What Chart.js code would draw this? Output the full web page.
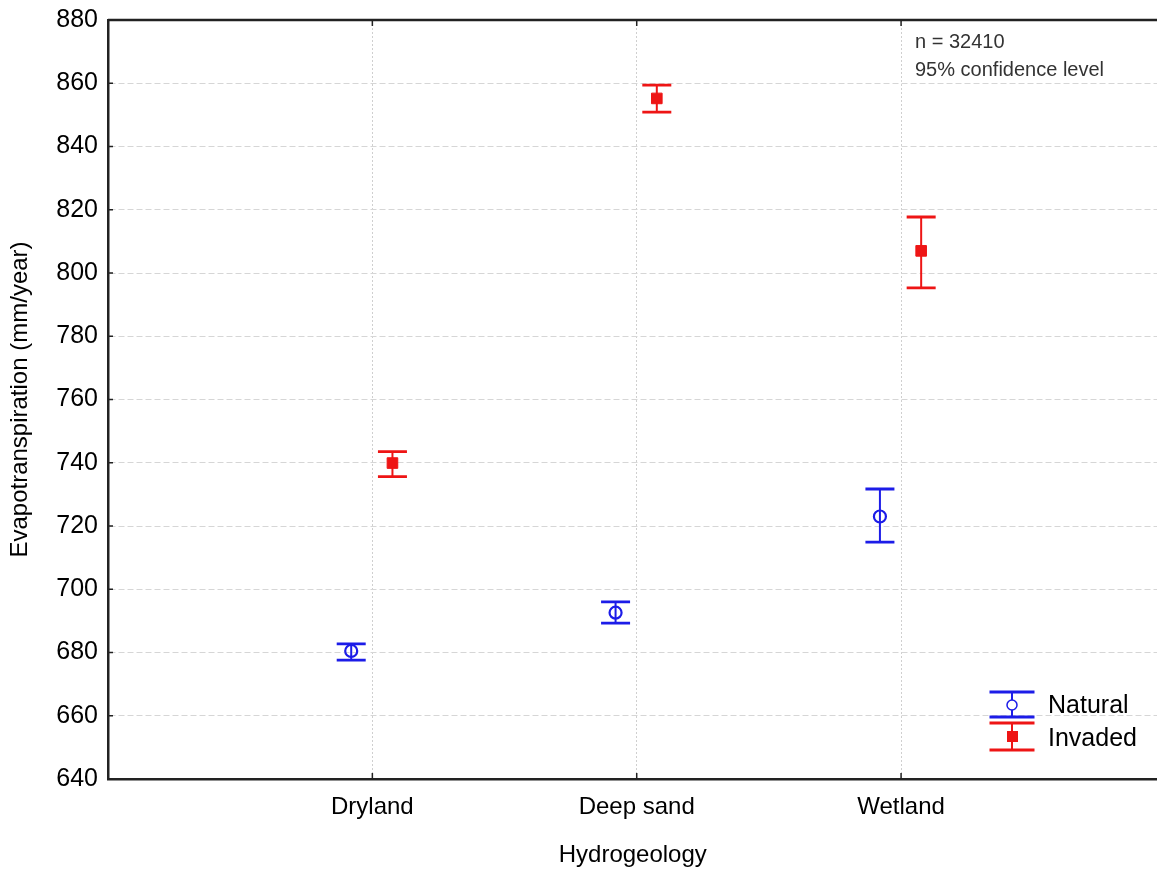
<!DOCTYPE html>
<html>
<head>
<meta charset="utf-8">
<script src="https://cdn.jsdelivr.net/npm/chart.js@4.4.0/dist/chart.umd.min.js"></script>
<style>
  html, body { margin: 0; padding: 0; background: #fff; overflow: hidden; }
  #wrap { width: 1157px; height: 870px; overflow: hidden; }
</style>
</head>
<body>
<div id="wrap"><canvas id="myChart" width="1166" height="870"></canvas></div>
<script>
// données
const categories = ['Dryland', 'Deep sand', 'Wetland'];
const naturalMean = [680.5, 692.6, 723.0];
const naturalLow = [677.6, 689.3, 714.9];
const naturalHigh = [682.7, 696.0, 731.7];
const invadedMean = [739.9, 855.2, 807.0];
const invadedLow = [735.6, 850.9, 795.3];
const invadedHigh = [743.5, 859.4, 817.7];
const yTickValues = [640, 660, 680, 700, 720, 740, 760, 780, 800, 820, 840, 860, 880];

const BLUE = '#1c1ce8';
const RED = '#ee1515';
const TEXT = '#000';
const FONT = 'Arial, "Liberation Sans", sans-serif';

// décalage horizontal des deux groupes autour de la catégorie
const shiftNatural = -0.08;
const shiftInvaded = 0.076;

const naturalPts = naturalMean.map((v, i) => ({ x: i + 1 + shiftNatural, y: v }));
const invadedPts = invadedMean.map((v, i) => ({ x: i + 1 + shiftInvaded, y: v }));

function drawBar(ctx, x, yTop, yBot, color, cap) {
    ctx.save();
    ctx.strokeStyle = color;
    ctx.lineWidth = 2;
    ctx.beginPath();
    ctx.moveTo(x, yTop);
    ctx.lineTo(x, yBot);
    ctx.stroke();
    ctx.lineWidth = 2.8;
    ctx.beginPath();
    ctx.moveTo(x - cap / 2, yTop);
    ctx.lineTo(x + cap / 2, yTop);
    ctx.moveTo(x - cap / 2, yBot);
    ctx.lineTo(x + cap / 2, yBot);
    ctx.stroke();
    ctx.restore();
}

// barres d'erreur (IC 95%)
const errorBars = {
    id: 'errorBars',
    beforeDatasetsDraw(chart) {
        const ctx = chart.ctx;
        const xs = chart.scales.x, ys = chart.scales.y;
        naturalPts.forEach((p, i) => {
            drawBar(ctx, xs.getPixelForValue(p.x), ys.getPixelForValue(naturalHigh[i]),
                ys.getPixelForValue(naturalLow[i]), BLUE, 29);
        });
        invadedPts.forEach((p, i) => {
            drawBar(ctx, xs.getPixelForValue(p.x), ys.getPixelForValue(invadedHigh[i]),
                ys.getPixelForValue(invadedLow[i]), RED, 29);
        });
    }
};

// cadre, petites graduations, légende et annotation
const decorations = {
    id: 'decorations',
    afterDraw(chart) {
        const ctx = chart.ctx;
        const a = chart.chartArea;
        const xs = chart.scales.x, ys = chart.scales.y;
        const right = 1157; // bord visible de la figure
        ctx.save();
        ctx.strokeStyle = '#222';
        ctx.lineWidth = 2.5;
        ctx.beginPath();
        ctx.moveTo(a.left, a.top);
        ctx.lineTo(a.right, a.top);
        ctx.stroke();

        ctx.lineWidth = 1.5;
        ctx.beginPath();
        yTickValues.forEach(v => {
            const y = ys.getPixelForValue(v);
            ctx.moveTo(a.left, y);
            ctx.lineTo(a.left + 5, y);
        });
        categories.forEach((c, i) => {
            const x = xs.getPixelForValue(i + 1);
            ctx.moveTo(x, a.bottom);
            ctx.lineTo(x, a.bottom - 6);
            ctx.moveTo(x, a.top);
            ctx.lineTo(x, a.top + 6);
        });
        ctx.stroke();

        // annotation
        ctx.fillStyle = '#333';
        ctx.font = '20px ' + FONT;
        ctx.textAlign = 'left';
        ctx.textBaseline = 'alphabetic';
        ctx.fillText('n = 32410', right - 242, 48);
        ctx.fillText('95% confidence level', right - 242, 76);

        // légende
        const lx = right - 145;
        drawBar(ctx, lx, 692, 717, BLUE, 45);
        ctx.fillStyle = '#fff';
        ctx.strokeStyle = BLUE;
        ctx.lineWidth = 1.5;
        ctx.beginPath();
        ctx.arc(lx, 705, 5, 0, Math.PI * 2);
        ctx.fill();
        ctx.stroke();
        drawBar(ctx, lx, 723, 750, RED, 45);
        ctx.fillStyle = RED;
        ctx.fillRect(lx - 5, 731, 11, 11);

        ctx.fillStyle = TEXT;
        ctx.font = '25px ' + FONT;
        ctx.textBaseline = 'middle';
        ctx.fillText('Natural', lx + 36, 706);
        ctx.fillText('Invaded', lx + 36, 739);
        ctx.restore();
    }
};

const ctx = document.getElementById('myChart').getContext('2d');
const myChart = new Chart(ctx, {
    type: 'scatter',
    data: {
        datasets: [{
            label: 'Natural',
            data: naturalPts,
            pointStyle: 'circle',
            radius: 6,
            borderColor: BLUE,
            backgroundColor: 'rgba(0,0,0,0)',
            borderWidth: 2.2
        }, {
            label: 'Invaded',
            data: invadedPts,
            pointStyle: 'rect',
            radius: 7.5,
            borderColor: RED,
            backgroundColor: RED,
            borderWidth: 1
        }]
    },
    options: {
        responsive: false,
        animation: false,
        layout: { padding: { top: 20, right: 0, left: 0, bottom: 0 } },
        plugins: {
            legend: { display: false },
            tooltip: { enabled: false }
        },
        scales: {
            x: {
                type: 'linear',
                min: 0,
                max: 3.97,
                afterBuildTicks: scale => {
                    scale.ticks = categories.map((c, i) => ({ value: i + 1 }));
                },
                afterFit: scale => {
                    scale.height = 91;
                    scale.paddingLeft = 0;
                    scale.paddingRight = 0;
                },
                ticks: {
                    autoSkip: false,
                    padding: 14,
                    color: TEXT,
                    font: { family: FONT, size: 24 },
                    callback: v => categories[v - 1] || ''
                },
                grid: {
                    color: '#cfcfcf',
                    lineWidth: 1,
                    drawTicks: false
                },
                border: { display: true, color: '#222', width: 2.5, dash: [2, 2] },
                title: {
                    display: true,
                    text: 'Hydrogeology',
                    color: TEXT,
                    font: { family: FONT, size: 24 },
                    padding: { top: 0, bottom: 0 }
                }
            },
            y: {
                min: 640,
                max: 880,
                afterBuildTicks: scale => {
                    scale.ticks = yTickValues.map(v => ({ value: v }));
                },
                afterFit: scale => {
                    scale.width = 108;
                    scale.paddingTop = 0;
                    scale.paddingBottom = 0;
                },
                ticks: {
                    padding: 10,
                    color: TEXT,
                    font: { family: FONT, size: 25 }
                },
                grid: {
                    color: '#d6d6d6',
                    lineWidth: 1,
                    drawTicks: false
                },
                border: { display: true, color: '#222', width: 2.5, dash: [6, 3] },
                title: {
                    display: true,
                    text: 'Evapotranspiration (mm/year)',
                    color: TEXT,
                    font: { family: FONT, size: 24 },
                    padding: { top: 6, bottom: 0 }
                }
            }
        }
    },
    plugins: [errorBars, decorations]
});
</script>
</body>
</html>
